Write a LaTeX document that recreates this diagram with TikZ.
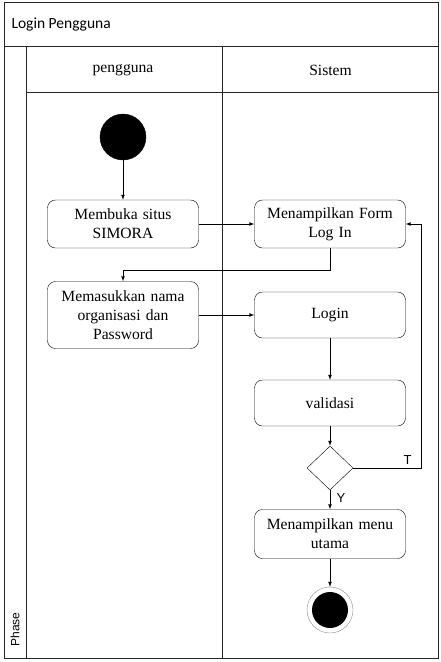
\documentclass[tikz,border=0pt]{standalone}
\usepackage{fontspec}
\setmainfont{Liberation Serif}
\newfontfamily\titlefont{Carlito}
\newfontfamily\labelfont{Liberation Sans}
\usetikzlibrary{shapes.geometric}

\begin{document}
\begin{tikzpicture}[x=1pt,y=-1pt,
     lane/.style = {draw=black!85, line width=0.8pt},
     activity/.style = {draw, rectangle, rounded corners=8pt, minimum width=151pt,
      minimum height=48pt, text width=144pt, align=center, font=\fontsize{15.6}{19}\selectfont},
     startnode/.style = {draw, circle, fill=black, minimum size=46pt, inner sep=0pt},
     endring/.style = {draw=black!45, circle, fill=white, minimum size=46pt, inner sep=0pt},
     enddot/.style = {circle, fill=black, minimum size=36pt, inner sep=0pt},
     decision/.style = {draw, diamond, minimum width=46pt, minimum height=44pt, inner sep=0pt},
     arrow/.style = {draw, -latex, line width=0.7pt},
     guard/.style = {font=\labelfont\fontsize{13}{15}\selectfont}
    ]
    \useasboundingbox (0,0) rectangle (440,662);

    % swimlanes
    \draw[lane] (4,2) rectangle (438,658);
    \draw[lane] (4,46) -- (438,46);
    \draw[lane] (26,46) -- (26,658);
    \draw[lane] (26,92) -- (438,92);
    \draw[lane] (222,46) -- (222,658);
    \node[anchor=west, font=\titlefont\fontsize{15.5}{17}\selectfont] (title) at (8,24) {Login Pengguna};
    \node[rotate=90, anchor=west, font=\labelfont\fontsize{12}{14}\selectfont] (phase) at (15,650) {Phase};
    \node[font=\fontsize{15.6}{18}\selectfont] (user) at (123,70) {pengguna};
    \node[font=\fontsize{15.6}{18}\selectfont] (sys) at (330.5,70) {Sistem};

    \node [startnode] (start) at (123,137) {};
    \node [activity, below of=start, node distance=87pt] (open) {Membuka situs\\SIMORA};
    \node [activity, right of=open, node distance=207pt] (form) {Menampilkan Form\\Log In};
    \node [activity, below of=open, node distance=91pt, minimum height=67pt] (input) {Memasukkan nama\\organisasi dan\\Password};
    \node [activity, right of=input, node distance=207pt, minimum height=46pt] (login) {Login};
    \node [activity, below of=login, node distance=88pt, minimum height=46pt] (valid) {validasi};
    \node [decision, below of=valid, node distance=65pt] (check) {};
    \node [activity, below of=check, node distance=66pt, minimum height=49pt] (menu) {Menampilkan menu\\utama};
    \node [endring, below of=menu, node distance=76pt] (finish) {};
    \node [enddot] (finishdot) at (finish) {};

    \draw[arrow] (start) -- (open);
    \draw[arrow] (open) -- (form);
    \draw[arrow] (form.south) -- ++(0,22) -| (input.north);
    \draw[arrow] (input) -- (login);
    \draw[arrow] (login) -- (valid);
    \draw[arrow] (valid) -- (check);
    \draw[arrow] (check) -- node [right, pos=0.4, xshift=3pt, guard] {Y} (menu);
    \draw[arrow] (check.east) -- node [above, pos=0.8, guard] {T} ++(68,0) |- (form.east);
    \draw[arrow] (menu) -- (finish);

\end{tikzpicture}
\end{document}
